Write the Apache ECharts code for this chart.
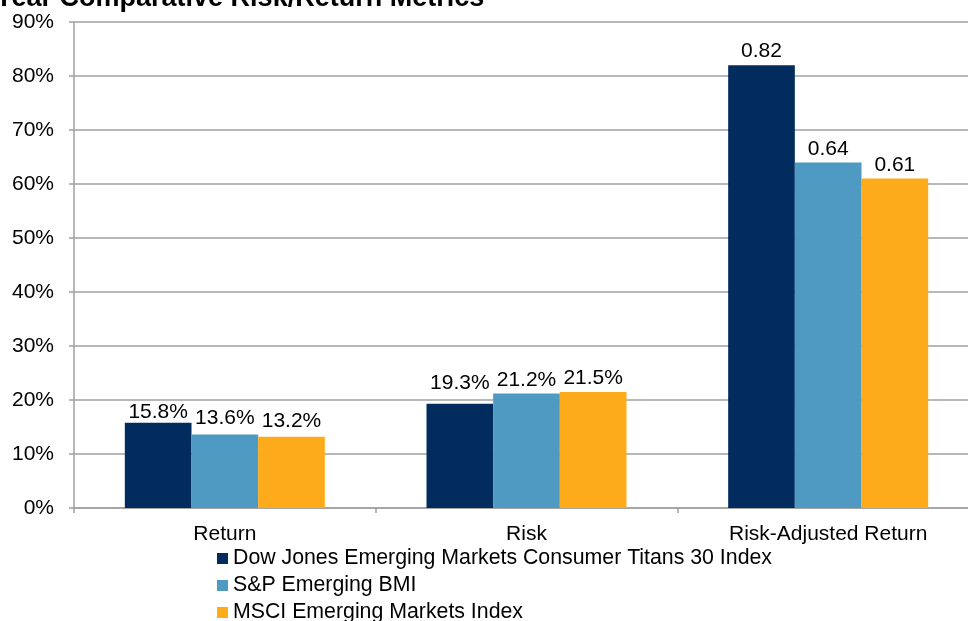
<!DOCTYPE html>
<html>
<head>
<meta charset="utf-8">
<script src="https://cdn.jsdelivr.net/npm/echarts@6/dist/echarts.min.js"></script>
<style>html,body{margin:0;padding:0;background:#fff;overflow:hidden}#c{width:979px;height:621px}</style>
</head>
<body>
<div id="c"></div>
<script>
var categories = ['Return', 'Risk', 'Risk-Adjusted Return'];
var seriesNames = ['Dow Jones Emerging Markets Consumer Titans 30 Index', 'S&P Emerging BMI', 'MSCI Emerging Markets Index'];
var dowJones = [15.8, 19.3, 82];
var spBMI = [13.6, 21.2, 64];
var msci = [13.2, 21.5, 61];
var dowJonesLabels = ['15.8%', '19.3%', '0.82'];
var spBMILabels = ['13.6%', '21.2%', '0.64'];
var msciLabels = ['13.2%', '21.5%', '0.61'];
var yTicks = [0, 10, 20, 30, 40, 50, 60, 70, 80, 90];
var titleText = 'Year Comparative Risk/Return Metrics';

var colors = ['#022c5e', '#4f9ac3', '#fdab1a'];
var FONT = 'Liberation Sans, Arial, sans-serif';
var FS = 21;
var chart = echarts.init(document.getElementById('c'));

// small label nudges (pixels, per category) to mimic reference label placement
var nudges = [[3, -7, 0], [-3, 0, 0], [-2, 0, 0]];

function mk(idx, data, labels, color) {
  return {
    name: seriesNames[idx], type: 'bar',
    data: data.map(function (v, i) {
      return { value: v, label: { offset: [0, nudges[idx][i]] } };
    }),
    barGap: '0%', barCategoryGap: '33.7%',
    itemStyle: { color: color },
    label: {
      show: true, position: 'top', distance: 3,
      fontFamily: FONT, fontSize: FS, color: '#000',
      formatter: function (p) { return labels[p.dataIndex]; }
    }
  };
}

function legendItem(idx, top) {
  return {
    orient: 'vertical', left: 212, top: top,
    itemWidth: 11, itemHeight: 11, itemGap: 0,
    icon: 'rect', selectedMode: false,
    textStyle: { fontFamily: FONT, fontSize: 21.3, color: '#000', padding: [0, 0, 0, 0] },
    data: [seriesNames[idx]]
  };
}

chart.setOption({
  animation: false,
  color: colors,
  graphic: [{
    type: 'text', left: -5, top: -15,
    style: { text: titleText, font: 'bold 27px Liberation Sans, Arial, sans-serif', fill: '#000' }
  }],
  grid: { left: 74, right: 0, top: 22, bottom: 113, containLabel: false },
  legend: [legendItem(0, 543), legendItem(1, 570), legendItem(2, 597)],
  xAxis: {
    type: 'category', data: categories,
    axisLine: { lineStyle: { color: '#a0a0a0', width: 1.5 } },
    axisTick: { show: true, length: 5, lineStyle: { color: '#a0a0a0', width: 1.5 } },
    axisLabel: { fontFamily: FONT, fontSize: FS, color: '#000', margin: 16 }
  },
  yAxis: {
    type: 'value', min: 0, max: 90, interval: 10,
    axisLine: { show: true, lineStyle: { color: '#a0a0a0', width: 1.5 } },
    axisTick: { show: true, length: 5, lineStyle: { color: '#a0a0a0', width: 1.5 } },
    splitLine: { lineStyle: { color: '#a0a0a0', width: 1.5 } },
    axisLabel: { fontFamily: FONT, fontSize: FS, color: '#000', margin: 20,
      formatter: function (v) { return yTicks.indexOf(v) >= 0 ? v + '%' : ''; } }
  },
  series: [
    mk(0, dowJones, dowJonesLabels, colors[0]),
    mk(1, spBMI, spBMILabels, colors[1]),
    mk(2, msci, msciLabels, colors[2])
  ]
});
</script>
</body>
</html>
